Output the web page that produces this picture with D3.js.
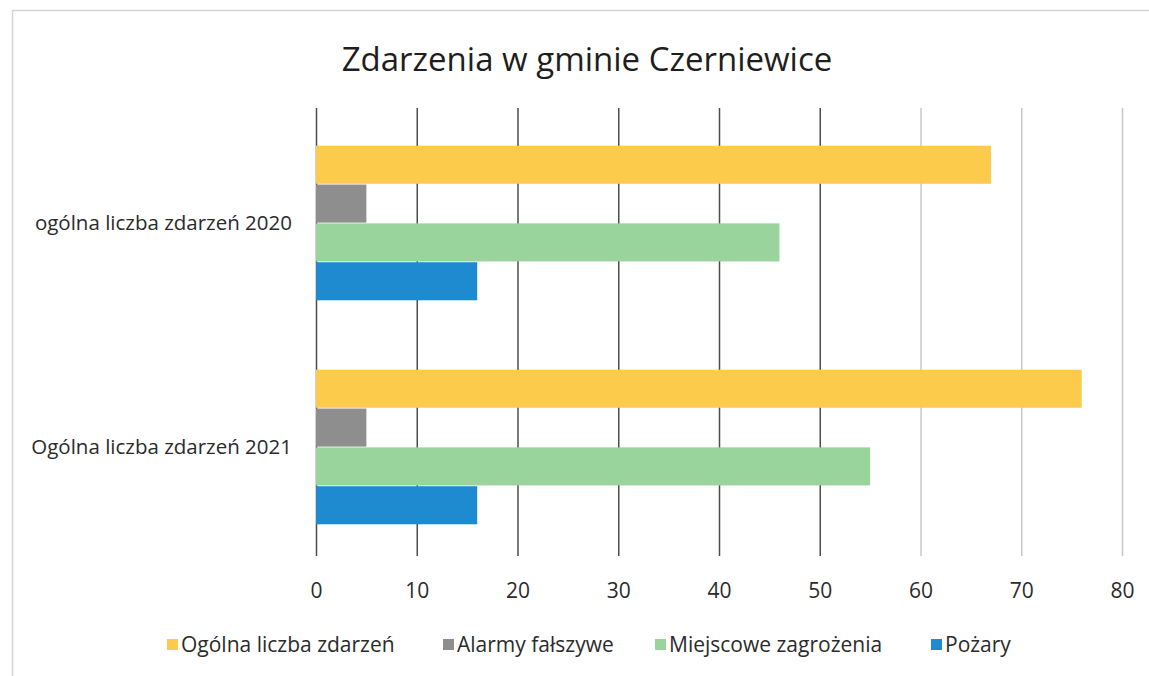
<!DOCTYPE html>
<html>
<head>
<meta charset="utf-8">
<script src="https://cdn.jsdelivr.net/npm/d3@7"></script>
<style>
  body { margin: 0; background: #fff; }
  text { font-family: "Open Sans", "Noto Sans", sans-serif; fill: #2b2b2b; }
</style>
</head>
<body>
<svg id="chart" width="1149" height="676"></svg>
<script>
var categories = ["ogólna liczba zdarzeń 2020", "Ogólna liczba zdarzeń 2021"];
var seriesNames = ["Ogólna liczba zdarzeń", "Alarmy fałszywe", "Miejscowe zagrożenia", "Pożary"];
var seriesColors = ["#fdcb4b", "#8e8e8e", "#98d49b", "#1e8ad0"];
var ogolna = [67, 76];
var alarmy = [5, 5];
var miejscowe = [46, 55];
var pozary = [16, 16];
var ticks = [0, 10, 20, 30, 40, 50, 60, 70, 80];

var svg = d3.select("#chart");

// ramka wykresu
svg.append("path")
  .attr("d", "M12.5,676 V10.5 H1149")
  .attr("fill", "none")
  .attr("stroke", "#d4d4d4")
  .attr("stroke-width", 1.5);

svg.append("text")
  .attr("x", 587).attr("y", 71)
  .attr("text-anchor", "middle")
  .style("font-size", "33px")
  .style("fill", "#1e1e1e")
  .text("Zdarzenia w gminie Czerniewice");

var plotTop = 108, plotBottom = 556;

var x = d3.scaleLinear().domain([0, 80]).range([316, 1122]);

var y = d3.scaleBand()
  .domain(categories)
  .range([plotTop + 3, plotBottom + 3])
  .paddingInner(0.31)
  .paddingOuter(0.155);

var ys = d3.scaleBand()
  .domain(seriesNames)
  .range([0, y.bandwidth()])
  .paddingInner(0.02);

// linie siatki
svg.append("g").selectAll("line")
  .data(ticks)
  .enter().append("line")
    .attr("x1", function(d) { return x(d) + 0.5; })
    .attr("x2", function(d) { return x(d) + 0.5; })
    .attr("y1", plotTop)
    .attr("y2", plotBottom)
    .attr("stroke", function(d) { return d >= 60 ? "#c8c8c8" : "#4d4d4d"; })
    .attr("stroke-width", 1.5);

var rows = [];
var values = [ogolna, alarmy, miejscowe, pozary];
categories.forEach(function(c, i) {
  seriesNames.forEach(function(s, j) {
    rows.push({ cat: c, series: s, value: values[j][i], color: seriesColors[j] });
  });
});

svg.append("g").selectAll("rect")
  .data(rows)
  .enter().append("rect")
    .attr("x", x(0))
    .attr("y", function(d) { return y(d.cat) + ys(d.series); })
    .attr("width", function(d) { return x(d.value) - x(0); })
    .attr("height", ys.bandwidth())
    .attr("fill", function(d) { return d.color; });

// oś X
var xAxis = svg.append("g")
  .attr("transform", "translate(0," + plotBottom + ")")
  .call(d3.axisBottom(x).tickValues(ticks).tickSize(0).tickPadding(27));
xAxis.select(".domain").remove();
xAxis.selectAll("text")
  .style("font-size", "21px")
  .style("font-family", "\"Open Sans\", sans-serif")
  .attr("fill", "#2b2b2b");

// etykiety kategorii
svg.append("g").selectAll("text")
  .data(categories)
  .enter().append("text")
    .attr("x", 292)
    .attr("y", function(d) { return y(d) + y.bandwidth() / 2; })
    .attr("dy", "0.35em")
    .attr("text-anchor", "end")
    .style("font-size", "20.5px")
    .text(function(d) { return d; });

// legenda
var legendX = [167, 443, 655, 931];
var legend = svg.append("g").selectAll("g")
  .data(seriesNames)
  .enter().append("g")
    .attr("transform", function(d, i) { return "translate(" + legendX[i] + ",645)"; });
legend.append("rect")
  .attr("x", 0).attr("y", -6)
  .attr("width", 11).attr("height", 11)
  .attr("fill", function(d, i) { return seriesColors[i]; });
legend.append("text")
  .attr("x", 14)
  .attr("dy", "0.35em")
  .style("font-size", "21px")
  .text(function(d) { return d; });
</script>
</body>
</html>
